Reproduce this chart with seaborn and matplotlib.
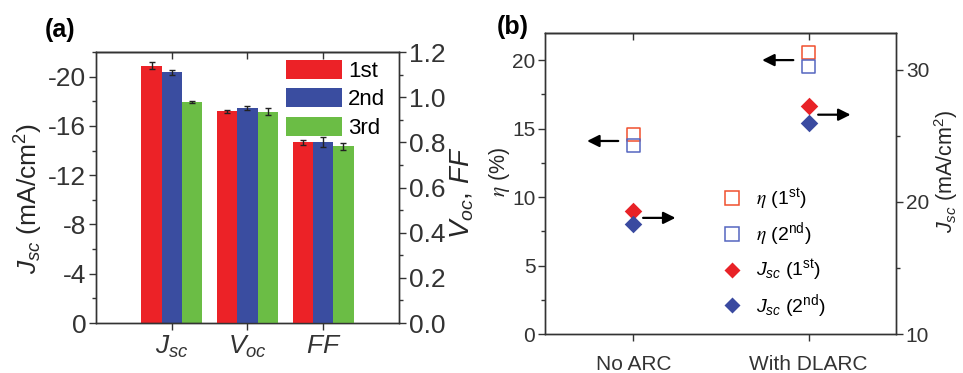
import numpy as np
import pandas as pd
import matplotlib
matplotlib.use("Agg")
import matplotlib.pyplot as plt
import seaborn as sns
from matplotlib.patches import Patch
from matplotlib.lines import Line2D
from matplotlib.ticker import MultipleLocator
from matplotlib.container import BarContainer

# ---------------- data ----------------
params = ["Jsc", "Voc", "FF"]
param_labels = ["$J_{sc}$", "$V_{oc}$", "$FF$"]
runs = ["1st", "2nd", "3rd"]
jsc_vals = [-20.9, -20.35, -17.95]
jsc_err = [0.3, 0.2, 0.1]
voc_vals = [0.937, 0.951, 0.935]
voc_err = [0.006, 0.009, 0.015]
ff_vals = [0.800, 0.802, 0.783]
ff_err = [0.011, 0.022, 0.015]
bar_colors = ["#EC2227", "#3A4DA0", "#6BBD45"]

conditions = ["No ARC", "With DLARC"]
eta_1st = [14.55, 20.55]
eta_2nd = [13.77, 19.53]
jsc_1st = [19.35, 27.27]
jsc_2nd = [18.34, 25.96]
eta_arrow_y = [14.1, 20.0]
jsc_arrow_y = [18.8, 26.6]

# ---------------- style ----------------
sns.set_theme(style="ticks")
plt.rcParams.update({
    "font.family": ["Liberation Sans", "DejaVu Sans"],
    "mathtext.fontset": "custom",
    "mathtext.rm": "Liberation Sans",
    "mathtext.it": "Liberation Sans:italic",
    "mathtext.bf": "Liberation Sans:bold",
    "mathtext.sf": "Liberation Sans",
    "axes.unicode_minus": False,
    "axes.edgecolor": "#333333",
    "axes.linewidth": 1.0,
    "xtick.color": "#333333",
    "ytick.color": "#333333",
    "text.color": "black",
})

fig = plt.figure(figsize=(9.63, 3.73), dpi=100)

# ================= panel (a) =================
axa = fig.add_axes([0.0997, 0.134, 0.3146, 0.7265])
axa2 = axa.twinx()

df_j = pd.DataFrame({"param": ["Jsc"] * 3, "run": runs, "value": jsc_vals})
df_vf = pd.DataFrame({"param": ["Voc"] * 3 + ["FF"] * 3, "run": runs * 2,
                      "value": voc_vals + ff_vals})

sns.barplot(data=df_j, x="param", y="value", hue="run", order=params,
            hue_order=runs, palette=bar_colors, width=0.8, errorbar=None,
            ax=axa, legend=False, linewidth=0, saturation=1)
sns.barplot(data=df_vf, x="param", y="value", hue="run", order=params,
            hue_order=runs, palette=bar_colors, width=0.8, errorbar=None,
            ax=axa2, legend=False, linewidth=0, saturation=1)

bars_a = [c for c in axa.containers if isinstance(c, BarContainer)]
bars_a2 = [c for c in axa2.containers if isinstance(c, BarContainer)]
for i, cont in enumerate(bars_a):
    for p in cont.patches:
        axa.errorbar(p.get_x() + p.get_width() / 2, p.get_height(), yerr=jsc_err[i],
                     fmt="none", ecolor="#222222", elinewidth=1, capsize=2.5, capthick=1)
for i, cont in enumerate(bars_a2):
    errs = [voc_err[i], ff_err[i]]
    for p, e in zip(sorted(cont.patches, key=lambda q: q.get_x()), errs):
        axa2.errorbar(p.get_x() + p.get_width() / 2, p.get_height(), yerr=e,
                      fmt="none", ecolor="#222222", elinewidth=1, capsize=2.5, capthick=1)

axa.set_xlim(-1, 3)
axa.set_ylim(0, -22)
axa.set_yticks([0, -4, -8, -12, -16, -20])
axa.yaxis.set_minor_locator(MultipleLocator(2))
axa2.set_ylim(0, 1.2)
axa2.set_yticks(np.arange(0, 1.21, 0.2))
axa2.set_yticklabels([f"{v:.1f}" for v in np.arange(0, 1.21, 0.2)])
axa2.yaxis.set_minor_locator(MultipleLocator(0.1))
axa.set_xticks(range(len(params)))
axa.set_xticklabels(param_labels, fontsize=19)
axa.set_xlabel("")
axa2.set_xlabel("")
axa.set_ylabel("$J_{sc}$ (mA/cm$^2$)", fontsize=19, labelpad=2)
axa.yaxis.label.set_y(0.46)
axa2.set_ylabel("$V_{oc}$, $FF$", fontsize=20, labelpad=2)
axa2.yaxis.label.set_y(0.48)
for ax in (axa, axa2):
    ax.tick_params(axis="y", which="major", labelsize=19, length=5, width=1, direction="out", pad=2)
    ax.tick_params(axis="y", which="minor", length=3, width=1, direction="out")
axa.tick_params(axis="x", which="major", length=5, width=1, direction="out", pad=3)
topa = axa.secondary_xaxis("top")
topa.set_xticks(range(len(params)))
topa.set_xticklabels([])
topa.tick_params(direction="in", length=5, width=1, color="#333333")

handles_a = [Patch(facecolor=c, edgecolor="none", label=r) for c, r in zip(bar_colors, runs)]
axa2.legend(handles=handles_a, loc="upper left", bbox_to_anchor=(0.627, 0.972),
            frameon=False, fontsize=16, handlelength=2.5, handleheight=0.95,
            labelspacing=0.28, handletextpad=0.3, borderpad=0, borderaxespad=0)

fig.text(0.046, 0.92, "(a)", fontsize=18, fontweight="bold", va="center", ha="left")

# ================= panel (b) =================
axb = fig.add_axes([0.566, 0.1038, 0.3645, 0.8086])
axb2 = axb.twinx()
xpos = np.arange(len(conditions))

sns.scatterplot(x=xpos, y=eta_1st, marker="s", s=90, ax=axb, color="#F0502E", linewidth=1.1)
axb.collections[-1].set_facecolor("none")
axb.collections[-1].set_edgecolor("#F0502E")
sns.scatterplot(x=xpos, y=eta_2nd, marker="s", s=90, ax=axb, color="#5566C0", linewidth=1.1)
axb.collections[-1].set_facecolor("none")
axb.collections[-1].set_edgecolor("#5566C0")
sns.scatterplot(x=xpos, y=jsc_1st, marker="D", s=80, ax=axb2, color="#E82227", linewidth=0)
sns.scatterplot(x=xpos, y=jsc_2nd, marker="D", s=80, ax=axb2, color="#3A4AA0", linewidth=0)

arrow_kw = dict(arrowstyle="-|>", color="black", lw=1.6, mutation_scale=18, shrinkA=0, shrinkB=0)
for x, y in zip(xpos, eta_arrow_y):
    axb.annotate("", xy=(x - 0.265, y), xytext=(x - 0.087, y), arrowprops=arrow_kw)
for x, y in zip(xpos, jsc_arrow_y):
    axb2.annotate("", xy=(x + 0.24, y), xytext=(x + 0.055, y), arrowprops=arrow_kw)

axb.set_xlim(-0.505, 1.5)
axb.set_ylim(0, 22)
axb.set_yticks([0, 5, 10, 15, 20])
axb.yaxis.set_minor_locator(MultipleLocator(2.5))
axb2.set_ylim(10, 32.8)
axb2.set_yticks([10, 20, 30])
axb2.yaxis.set_minor_locator(MultipleLocator(5))
axb.set_xticks(xpos)
axb.set_xticklabels(conditions, fontsize=15)
axb.set_ylabel(r"$\eta$ (%)", fontsize=15.5, labelpad=0, math_fontfamily="stix")
axb.yaxis.label.set_y(0.54)
axb2.set_ylabel("$J_{sc}$ (mA/cm$^2$)", fontsize=15.5, labelpad=2)
axb2.yaxis.label.set_y(0.54)
for ax in (axb, axb2):
    ax.tick_params(axis="y", which="major", labelsize=15, length=5, width=1, direction="out", pad=2)
    ax.tick_params(axis="y", which="minor", length=3, width=1, direction="out")
axb.tick_params(axis="x", which="major", length=5, width=1, direction="out", pad=10)
topb = axb.secondary_xaxis("top")
topb.set_xticks(xpos)
topb.set_xticklabels([])
topb.tick_params(direction="in", length=5, width=1, color="#333333")

handles_b = [
    Line2D([], [], ls="none", marker="s", markersize=9.5, markerfacecolor="none",
           markeredgecolor="#F0502E", markeredgewidth=1.1, label=r"$\eta$ (1$^{\mathregular{st}}$)"),
    Line2D([], [], ls="none", marker="s", markersize=9.5, markerfacecolor="none",
           markeredgecolor="#5566C0", markeredgewidth=1.1, label=r"$\eta$ (2$^{\mathregular{nd}}$)"),
    Line2D([], [], ls="none", marker="D", markersize=8, markerfacecolor="#E82227",
           markeredgecolor="none", label=r"$J_{sc}$ (1$^{\rm st}$)"),
    Line2D([], [], ls="none", marker="D", markersize=8, markerfacecolor="#3A4AA0",
           markeredgecolor="none", label=r"$J_{sc}$ (2$^{\rm nd}$)"),
]
leg_b = axb2.legend(handles=handles_b, loc="upper left", bbox_to_anchor=(0.50, 0.49),
                    frameon=False, fontsize=14, handlelength=1.2, labelspacing=0.45,
                    handletextpad=0.6, borderpad=0, borderaxespad=0)
for t in leg_b.get_texts()[:2]:
    t.set_math_fontfamily("stix")

fig.text(0.516, 0.928, "(b)", fontsize=18, fontweight="bold", va="center", ha="left")

fig.savefig("out.png", dpi=100)
